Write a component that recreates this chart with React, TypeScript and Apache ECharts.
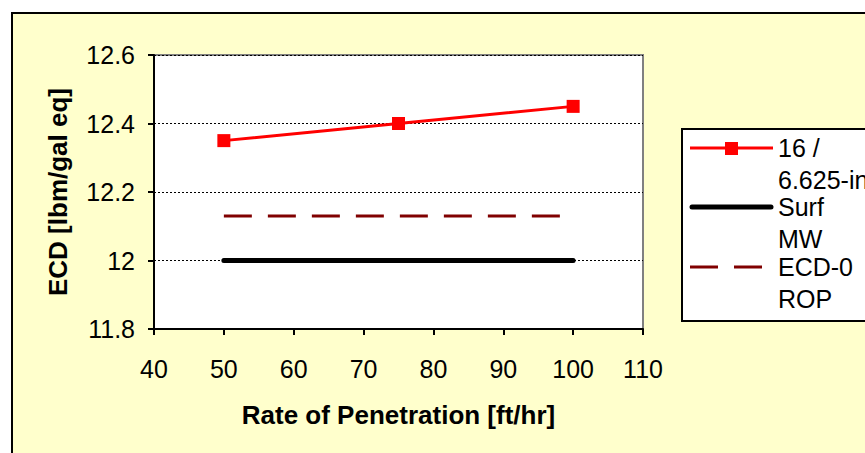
import React, { useEffect, useRef } from "react";
import * as echarts from "echarts";

const ropValues = [50, 75, 100];
const ecdBha = [12.35, 12.4, 12.45];
const surfMw = [12.0, 12.0, 12.0];
const ecdZeroRop = [12.13, 12.13, 12.13];
const seriesNames = ["16 /\n6.625-in", "Surf\nMW", "ECD-0\nROP"];
const xTitle = "Rate of Penetration [ft/hr]";
const yTitle = "ECD [lbm/gal eq]";

const FONT = "'Liberation Sans', Arial, sans-serif";

export default function App() {
  const ref = useRef<HTMLDivElement>(null);
  useEffect(() => {
    if (!ref.current) return;
    const chart = echarts.init(ref.current, null, { renderer: "svg" });
    const pair = (ys: number[]) => ropValues.map((x, i) => [x, ys[i]]);

    const legendText = (name: string, y: number) => {
      const lines = name.split("\n");
      return lines.map((t, i) => ({
        type: "text",
        left: 778,
        top: y - 13 + i * 32,
        style: { text: t, font: `25px ${FONT}`, fill: "#000" },
        z: 20,
      }));
    };

    const option: any = {
      animation: false,
      backgroundColor: "#ffffff",
      textStyle: { fontFamily: FONT },
      grid: {
        left: 154,
        top: 55,
        right: 222,
        bottom: 124,
        show: true,
        backgroundColor: "#ffffff",
        borderColor: "#808080",
        borderWidth: 2,
        z: 0,
      },
      xAxis: {
        type: "value",
        min: 40,
        max: 110,
        interval: 10,
        z: 2,
        name: xTitle,
        nameLocation: "middle",
        nameGap: 73,
        nameTextStyle: { fontSize: 26, fontWeight: "bold", color: "#000", fontFamily: FONT },
        axisLine: { show: true, onZero: false, lineStyle: { color: "#000", width: 2 } },
        axisTick: { show: true, length: 6, inside: false, lineStyle: { color: "#000", width: 2 } },
        axisLabel: { fontSize: 25, color: "#000", margin: 27, fontFamily: FONT },
        splitLine: { show: false },
      },
      yAxis: {
        type: "value",
        min: 11.8,
        max: 12.6,
        interval: 0.2,
        z: 2,
        name: yTitle,
        nameLocation: "middle",
        nameGap: 83,
        nameTextStyle: { fontSize: 26, fontWeight: "bold", color: "#000", fontFamily: FONT },
        axisLine: { show: true, onZero: false, lineStyle: { color: "#000", width: 2 } },
        axisTick: { show: true, length: 6, inside: false, lineStyle: { color: "#000", width: 2 } },
        axisLabel: {
          fontSize: 25,
          color: "#000",
          margin: 19,
          fontFamily: FONT,
          formatter: (v: number) => String(Math.round(v * 10) / 10),
        },
        splitLine: {
          show: true,
          interval: (idx: number, v: any) => {
            const n = Number(v);
            return n > 11.85 && n < 12.55;
          },
          lineStyle: { color: "#000", width: 1, type: [2, 2] },
        },
      },
      graphic: [
        {
          type: "rect",
          shape: { x: 12, y: 13, width: 900, height: 500 },
          style: { fill: "#FFFFCC", stroke: "#000", lineWidth: 2 },
          z: -10,
          silent: true,
        },
        {
          type: "rect",
          shape: { x: 682, y: 129, width: 220, height: 192 },
          style: { fill: "#ffffff", stroke: "#000", lineWidth: 2 },
          z: 10,
        },
        {
          type: "line",
          shape: { x1: 690, y1: 148, x2: 773, y2: 148 },
          style: { stroke: "#FF0000", lineWidth: 3 },
          z: 20,
        },
        {
          type: "rect",
          shape: { x: 725, y: 142, width: 13, height: 13 },
          style: { fill: "#FF0000" },
          z: 21,
        },
        {
          type: "line",
          shape: { x1: 692, y1: 207, x2: 771, y2: 207 },
          style: { stroke: "#000", lineWidth: 5, lineCap: "round" },
          z: 20,
        },
        {
          type: "line",
          shape: { x1: 690, y1: 267, x2: 773, y2: 267 },
          style: { stroke: "#800000", lineWidth: 3, lineDash: [28, 16] },
          z: 20,
        },
        ...legendText(seriesNames[0], 148),
        ...legendText(seriesNames[1], 207),
        ...legendText(seriesNames[2], 267),
      ],
      series: [
        {
          name: seriesNames[2],
          type: "line",
          data: pair(ecdZeroRop),
          showSymbol: false,
          symbol: "none",
          lineStyle: { color: "#800000", width: 3, type: [28, 16] },
          z: 4,
        },
        {
          name: seriesNames[1],
          type: "line",
          data: pair(surfMw),
          showSymbol: false,
          symbol: "none",
          lineStyle: { color: "#000", width: 5, cap: "round" },
          z: 5,
        },
        {
          name: seriesNames[0],
          type: "line",
          data: pair(ecdBha),
          symbol: "rect",
          symbolSize: 13,
          itemStyle: { color: "#FF0000" },
          lineStyle: { color: "#FF0000", width: 3 },
          z: 6,
        },
      ],
    };
    chart.setOption(option);
    return () => chart.dispose();
  }, []);
  return (
    <div
      ref={ref}
      style={{ position: "fixed", left: 0, top: 0, width: 865, height: 453 }}
    />
  );
}
